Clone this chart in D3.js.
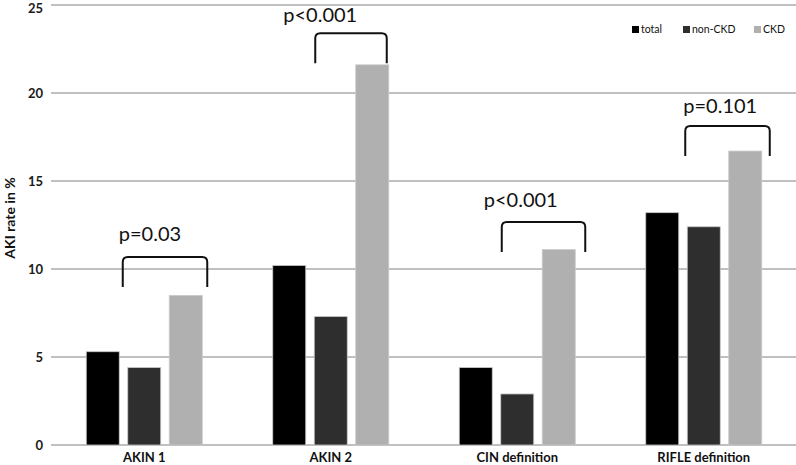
<!DOCTYPE html>
<html>
<head>
<meta charset="utf-8">
<script src="https://cdn.jsdelivr.net/npm/d3@7/dist/d3.min.js"></script>
<style>
  html, body { margin: 0; padding: 0; background: #fff; }
  svg { display: block; font-family: Lato, "Open Sans", sans-serif; }
</style>
</head>
<body>
<svg id="chart" width="796" height="465"></svg>
<script>
const categories = ["AKIN 1", "AKIN 2", "CIN definition", "RIFLE definition"];
const seriesNames = ["total", "non-CKD", "CKD"];
const totalValues = [5.3, 10.2, 4.4, 13.2];
const nonCkdValues = [4.4, 7.3, 2.9, 12.4];
const ckdValues = [8.5, 21.6, 11.1, 16.7];
const yTicks = [0, 5, 10, 15, 20, 25];
const pLabels = ["p=0.03", "p<0.001", "p<0.001", "p=0.101"];
const bracketTops = [10.68, 23.4, 12.67, 18.12];

// layout tweaks for the annotation brackets (pixels)
const bracketLeftPad = [-5, 1, 1, -2];
const bracketRightPad = [5, -2, 10, 8];
const labelShiftX = [-4, -32, -18, -2];
const labelGapY = [16, 11, 15, 13];

const colors = {"total": "#000000", "non-CKD": "#2e2e2e", "CKD": "#b0b0b0"};
const seriesValues = {"total": totalValues, "non-CKD": nonCkdValues, "CKD": ckdValues};

const svg = d3.select("#chart");
const plotLeft = 51, plotRight = 797, plotTop = 5, plotBottom = 445;

const y = d3.scaleLinear().domain([0, 25]).range([plotBottom, plotTop]);
const x0 = d3.scaleBand().domain(categories).range([plotLeft, plotRight]).padding(0);
const bw = x0.bandwidth();
const x1 = d3.scaleBand().domain(seriesNames).range([bw / 2 - 58, bw / 2 + 58]).paddingInner(0.205).paddingOuter(0);

// gridlines
svg.append("g").selectAll("line").data(yTicks).join("line")
  .attr("x1", plotLeft).attr("x2", 796)
  .attr("y1", d => y(d)).attr("y2", d => y(d))
  .attr("stroke", "#c0c0c0").attr("stroke-width", 2);

// y tick labels
svg.append("g").selectAll("text").data(yTicks).join("text")
  .attr("x", 43).attr("y", d => Math.max(y(d), 8.5)).attr("dy", "0.36em")
  .attr("text-anchor", "end")
  .attr("font-size", 13).attr("font-weight", "bold").attr("fill", "#1a1a1a")
  .text(d => d);

// y title
svg.append("text")
  .attr("transform", "translate(15,218) rotate(-90)")
  .attr("text-anchor", "middle")
  .attr("font-size", 14).attr("font-weight", "bold").attr("fill", "#111")
  .text("AKI rate in %");

// bars
const groups = svg.append("g").selectAll("g").data(categories).join("g")
  .attr("transform", d => `translate(${x0(d)},0)`);
groups.selectAll("rect").data((c, i) => seriesNames.map(s => ({s, v: seriesValues[s][i]}))).join("rect")
  .attr("x", d => x1(d.s)).attr("width", x1.bandwidth())
  .attr("y", d => y(d.v)).attr("height", d => y(0) - y(d.v))
  .attr("fill", d => colors[d.s])
  .attr("stroke", "#c8c8c8").attr("stroke-width", 0.8);

// category labels
svg.append("g").selectAll("text").data(categories).join("text")
  .attr("x", d => x0(d) + bw / 2).attr("y", 462)
  .attr("text-anchor", "middle")
  .attr("font-size", 13).attr("font-weight", "bold").attr("fill", "#111")
  .text(d => d);

// brackets
const drop = 30, r = 5;
categories.forEach((c, i) => {
  const xl = x0(c) + x1("non-CKD") + bracketLeftPad[i];
  const xr = x0(c) + x1("CKD") + x1.bandwidth() + bracketRightPad[i];
  const yt = y(bracketTops[i]);
  const p = d3.path();
  p.moveTo(xl, yt + drop);
  p.lineTo(xl, yt + r);
  p.quadraticCurveTo(xl, yt, xl + r, yt);
  p.lineTo(xr - r, yt);
  p.quadraticCurveTo(xr, yt, xr, yt + r);
  p.lineTo(xr, yt + drop);
  svg.append("path").attr("d", p.toString())
    .attr("fill", "none").attr("stroke", "#111").attr("stroke-width", 2);
  svg.append("text")
    .attr("x", xl + labelShiftX[i]).attr("y", yt - labelGapY[i])
    .attr("font-size", 20).attr("fill", "#111")
    .text(pLabels[i]);
});

// legend
const legendX = [632, 683, 754];
const lg = svg.append("g").selectAll("g").data(seriesNames).join("g")
  .attr("transform", (d, i) => `translate(${legendX[i]},25)`);
lg.append("rect").attr("width", 7).attr("height", 7).attr("y", 1)
  .attr("fill", d => colors[d]);
lg.append("text").attr("x", 9).attr("y", 8)
  .attr("font-size", 10.5).attr("fill", "#111")
  .text(d => d);
</script>
</body>
</html>
